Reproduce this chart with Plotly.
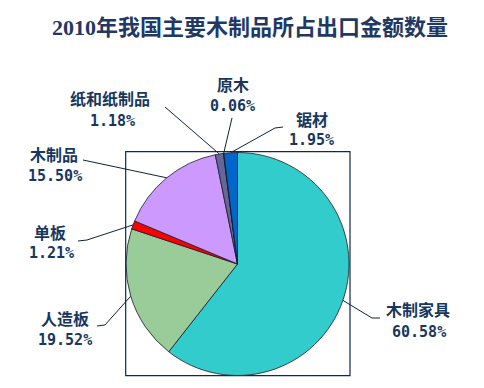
import math
import plotly.graph_objects as go

# ---- data ----
labels = ["木制家具", "人造板", "单板", "木制品", "纸和纸制品", "原木", "锯材"]
values = [60.58, 19.52, 1.21, 15.50, 1.18, 0.06, 1.95]
pct_text = ["60.58%", "19.52%", "1.21%", "15.50%", "1.18%", "0.06%", "1.95%"]
colors = ["#33CCCC", "#99CC99", "#FF0000", "#CC99FF", "#666699", "#1F4E79", "#0066CC"]
title_text = "2010年我国主要木制品所占出口金额数量"

# ---- layout (page pixels) ----
PAGE_W, PAGE_H = 484, 388
OFF = 8                                   # default body margin of the html page
W, H = PAGE_W - OFF, PAGE_H - OFF
CX, CY, R = 237.5, 264.0, 111.5          # pie centre / radius
BOX = (125.7, 151.7, 350.0, 375.7)       # frame x0, y0, x1, y1
TXT = "#17375E"

# per-label layout: leader elbow points, name pos, pct pos (page pixels)
label_layout = [
    dict(pts=[(372, 318), (380, 318)], name=(418, 309), pct=(419, 332)),
    dict(pts=[(105, 325), (97, 326)], name=(65, 318), pct=(65, 340)),
    dict(pts=[(87, 240), (78, 241)], name=(50, 232), pct=(51, 253)),
    dict(pts=[(83, 160)], name=(54, 154), pct=(55, 176)),
    dict(pts=[(165, 107)], name=(110, 98), pct=(112, 121)),
    dict(pts=[(232, 118)], name=(232.5, 84), pct=(232.5, 106)),
    dict(pts=[(275, 128), (283, 127)], name=(311.5, 119), pct=(311, 140)),
]


def px(x):
    return (x - OFF) / W


def py(y):
    return 1 - (y - OFF) / H


fig = go.Figure(go.Pie(
    labels=labels, values=values, sort=False, direction="clockwise", rotation=0,
    marker=dict(colors=colors, line=dict(color="#1a1a2a", width=0.8)),
    textinfo="none", hoverinfo="label+percent", showlegend=False,
    domain=dict(x=[px(CX - R), px(CX + R)], y=[py(CY + R), py(CY - R)]),
))

shapes = [dict(type="rect", xref="paper", yref="paper",
               x0=px(BOX[0]), y0=py(BOX[3]), x1=px(BOX[2]), y1=py(BOX[1]),
               line=dict(color="#0B2C4B", width=1.2), layer="above")]

annotations = [dict(text="<b>" + title_text + "</b>", x=px(250), y=py(28),
                    xref="paper", yref="paper", xanchor="center", yanchor="middle",
                    showarrow=False,
                    font=dict(family="Liberation Serif, Noto Sans CJK SC", size=22, color="#1F3864"))]

total = sum(values)
cum = 0.0
for lab, val, pct, lay in zip(labels, values, pct_text, label_layout):
    mid = (cum + val / 2) / total * 2 * math.pi
    cum += val
    sx = CX + R * math.sin(mid)
    sy = CY - R * math.cos(mid)
    pts = [(sx, sy)] + lay["pts"]
    path = "M " + " L ".join(f"{px(x):.5f},{py(y):.5f}" for x, y in pts)
    shapes.append(dict(type="path", xref="paper", yref="paper", path=path,
                       line=dict(color="#10233A", width=1), layer="above"))
    annotations.append(dict(text="<b>" + lab + "</b>", x=px(lay["name"][0]), y=py(lay["name"][1]),
                            xref="paper", yref="paper", xanchor="center", yanchor="middle",
                            showarrow=False,
                            font=dict(family="Noto Sans CJK SC", size=16, color=TXT)))
    annotations.append(dict(text="<b>" + pct + "</b>", x=px(lay["pct"][0]), y=py(lay["pct"][1]),
                            xref="paper", yref="paper", xanchor="center", yanchor="middle",
                            showarrow=False,
                            font=dict(family="DejaVu Sans Mono", size=15, color=TXT)))

fig.update_layout(width=W, height=H, margin=dict(l=0, r=0, t=0, b=0),
                  paper_bgcolor="white", plot_bgcolor="white",
                  shapes=shapes, annotations=annotations)

fig.write_html("out.html")
